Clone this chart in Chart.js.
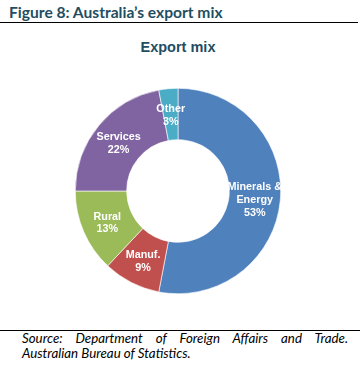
<!DOCTYPE html>
<html><head><meta charset="utf-8">
<script src="https://cdn.jsdelivr.net/npm/chart.js@4"></script>
<style>
html,body{margin:0;padding:0;background:#fff;width:363px;height:369px;overflow:hidden;position:relative}
#fig{position:absolute;left:9px;top:3px;font:bold 15.6px Lato,"Open Sans",sans-serif;color:#1f4e62;white-space:nowrap}
#rule1{position:absolute;left:0;top:22px;width:358px;height:0;border-top:1.5px solid #000}
#ct{position:absolute;left:0;width:356px;top:39px;text-align:center;font:bold 14.5px "Liberation Sans",Arial,sans-serif;color:#1f4e62}
#wrap{position:absolute;left:75px;top:88px;width:206px;height:206px}
#rule2{position:absolute;left:0;top:330px;width:360px;height:0;border-top:1px solid #000}
.src{position:absolute;left:22px;width:326px;font:italic 13.3px Lato,"Open Sans",sans-serif;color:#000;white-space:nowrap}
#s1{top:330px;text-align:justify;text-align-last:justify;white-space:normal}
#s2{top:345px}
</style></head><body>
<div id="fig">Figure 8: Australia’s export mix</div>
<div id="rule1"></div>
<div id="ct">Export mix</div>
<div id="wrap"><canvas id="c"></canvas></div>
<div id="rule2"></div>
<div class="src" id="s1">Source: Department of Foreign Affairs and Trade.</div>
<div class="src" id="s2">Australian Bureau of Statistics.</div>
<script>
const categories = ["Minerals & Energy", "Manuf.", "Rural", "Services", "Other"];
const labelLines = [["Minerals &", "Energy"], ["Manuf."], ["Rural"], ["Services"], ["Other"]];
const shares = [53, 9, 13, 22, 3];
const colors = ["#4f81bd", "#c0504d", "#9bbb59", "#8064a2", "#4bacc6"];

const labelPlugin = {
  id: 'sliceLabels',
  afterDatasetsDraw(chart) {
    const ctx = chart.ctx;
    const meta = chart.getDatasetMeta(0);
    ctx.save();
    ctx.fillStyle = '#fff';
    ctx.font = 'bold 10.8px "Liberation Sans", Arial, sans-serif';
    ctx.textAlign = 'center';
    ctx.textBaseline = 'middle';
    meta.data.forEach((arc, i) => {
      const p = arc.tooltipPosition();
      const lines = labelLines[i].concat([shares[i] + '%']);
      const lh = 12.8;
      const y0 = p.y - (lines.length - 1) * lh / 2 + 1.5;
      lines.forEach((t, j) => ctx.fillText(t, p.x, y0 + j * lh));
    });
    ctx.restore();
  }
};

new Chart(document.getElementById('c'), {
  type: 'doughnut',
  data: {
    labels: categories,
    datasets: [{
      data: shares,
      backgroundColor: colors,
      borderColor: '#ffffff',
      borderWidth: 0.6,
      hoverOffset: 0
    }]
  },
  options: {
    responsive: true,
    maintainAspectRatio: false,
    animation: false,
    cutout: '50%',
    layout: { padding: 0 },
    plugins: { legend: { display: false }, tooltip: { enabled: false }, title: { display: false } },
    events: []
  },
  plugins: [labelPlugin]
});
</script>
</body></html>
